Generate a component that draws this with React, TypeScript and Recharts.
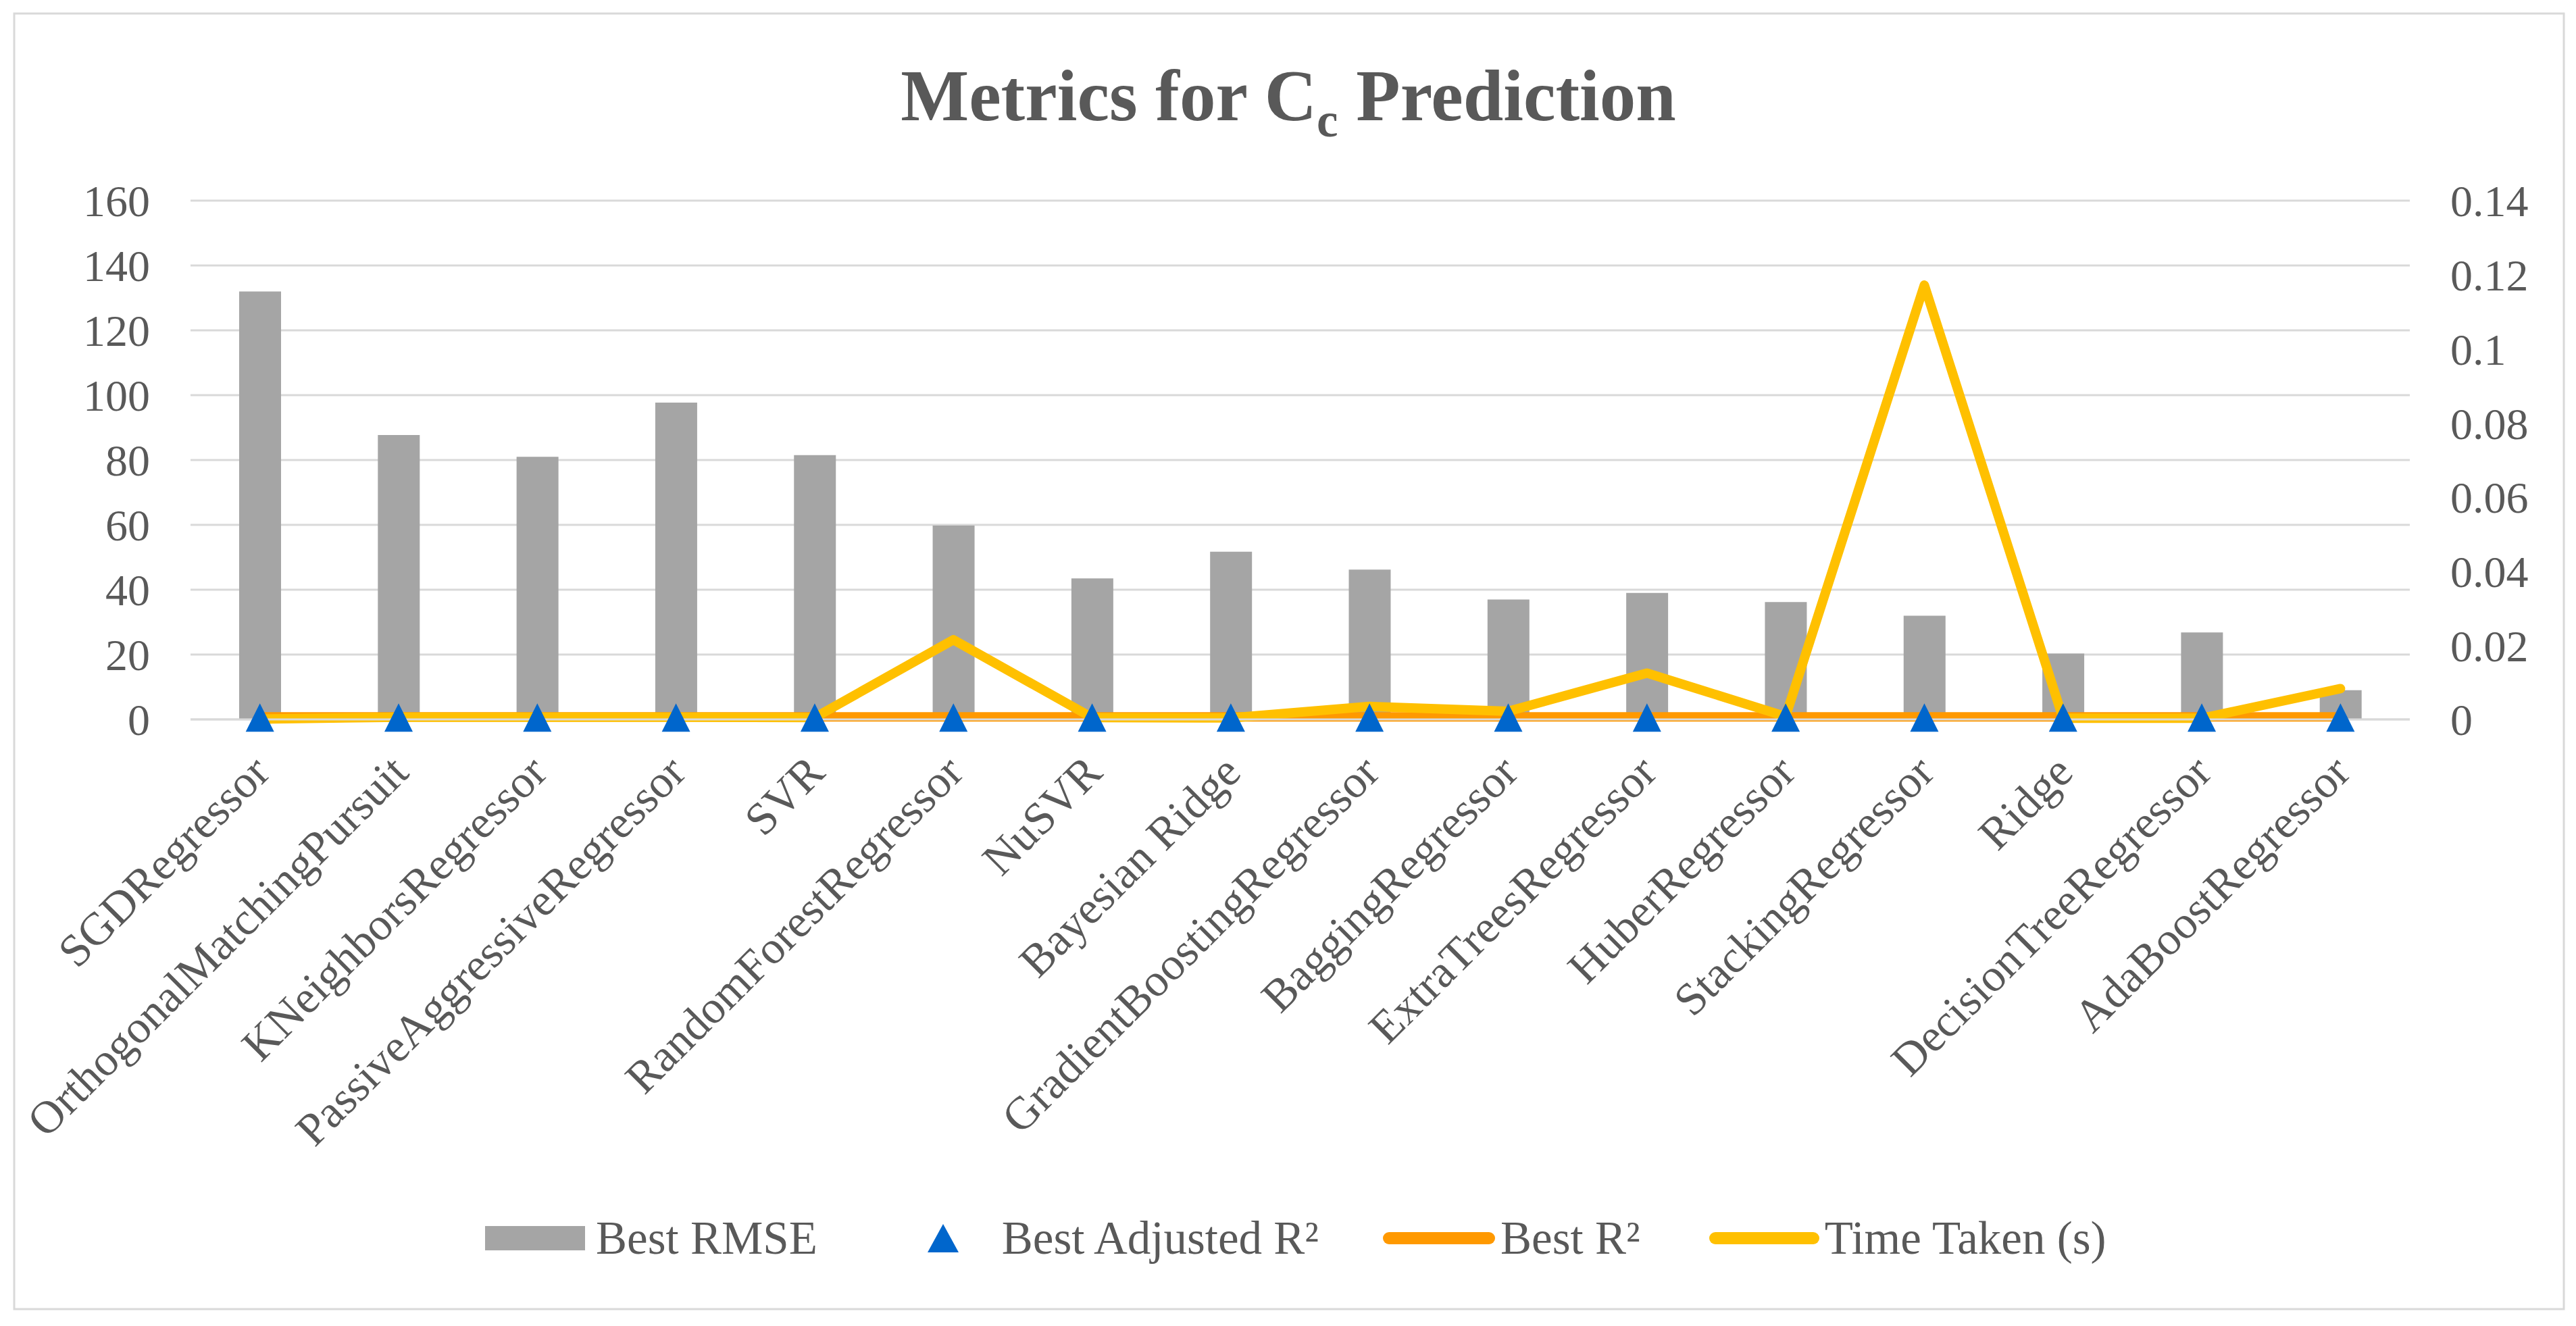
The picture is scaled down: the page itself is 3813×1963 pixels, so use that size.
import { ComposedChart, Bar, Line, XAxis, YAxis, CartesianGrid } from 'recharts';

const models = [
  'SGDRegressor',
  'OrthogonalMatchingPursuit',
  'KNeighborsRegressor',
  'PassiveAggressiveRegressor',
  'SVR',
  'RandomForestRegressor',
  'NuSVR',
  'Bayesian Ridge',
  'GradientBoostingRegressor',
  'BaggingRegressor',
  'ExtraTreesRegressor',
  'HuberRegressor',
  'StackingRegressor',
  'Ridge',
  'DecisionTreeRegressor',
  'AdaBoostRegressor',
];

const bestRmse = [132, 87.7, 81, 97.7, 81.5, 59.8, 43.5, 51.7, 46.2, 37, 39, 36.2, 32, 20.3, 26.8, 9];
const bestAdjR2 = [0.55, 0.55, 0.55, 0.55, 0.55, 0.55, 0.55, 0.55, 0.55, 0.55, 0.55, 0.55, 0.55, 0.55, 0.55, 0.55];
const bestR2 = [0.8, 0.8, 0.8, 0.8, 0.8, 0.8, 0.8, 0.8, 0.8, 0.8, 0.8, 0.8, 0.8, 0.8, 0.8, 0.8];
const timeTaken = [0.0001, 0.0006, 0.0006, 0.0006, 0.0005, 0.0215, 0.0005, 0.0004, 0.0035, 0.0022, 0.0125, 0.0008, 0.1172, 0.0003, 0.0003, 0.0083];

const leftTicks = [0, 20, 40, 60, 80, 100, 120, 140, 160];
const rightTicks = [0, 0.02, 0.04, 0.06, 0.08, 0.1, 0.12, 0.14];

const data = models.map((name, i) => ({
  name,
  rmse: bestRmse[i],
  adjR2: bestAdjR2[i],
  r2: bestR2[i],
  time: timeTaken[i],
}));

const FONT = '"Liberation Serif", "Times New Roman", serif';
const TEXT = '#595959';
const GRID = '#D9D9D9';
const GRAY = '#A5A5A5';
const BLUE = '#0066CC';
const ORANGE = '#FF9900';
const YELLOW = '#FFC000';

function CategoryTick({ x, y, payload }: any) {
  const ax = x + 18;
  const ay = y + 80;
  return (
    <text
      x={ax}
      y={ay}
      transform={`rotate(-45 ${ax} ${ay})`}
      textAnchor="end"
      fontFamily={FONT}
      fontSize={68}
      fill={TEXT}
    >
      {payload.value}
    </text>
  );
}

function TriangleDot({ cx, cy }: any) {
  if (cx == null || cy == null) return null;
  const h = 21;
  return (
    <polygon
      points={`${cx},${cy - h} ${cx + h},${cy + h} ${cx - h},${cy + h}`}
      fill={BLUE}
    />
  );
}

// legend: icon box width, gap before text, space before the item
const legendItems = [
  { label: 'Best RMSE', kind: 'bar', color: GRAY, icon: 148, gap: 16, before: 0 },
  { label: 'Best Adjusted R²', kind: 'triangle', color: BLUE, icon: 150, gap: 12, before: 111 },
  { label: 'Best R²', kind: 'line', color: ORANGE, icon: 166, gap: 8, before: 95 },
  { label: 'Time Taken (s)', kind: 'line', color: YELLOW, icon: 163, gap: 8, before: 102 },
];

function LegendIcon({ kind, color, w }: { kind: string; color: string; w: number }) {
  return (
    <svg width={w} height={50} style={{ overflow: 'visible', flex: 'none' }}>
      {kind === 'bar' && <rect x={0} y={7} width={w} height={36} fill={color} />}
      {kind === 'triangle' && (
        <polygon points={`${w / 2},4 ${w / 2 + 23},46 ${w / 2 - 23},46`} fill={color} />
      )}
      {kind === 'line' && (
        <line x1={9} y1={25} x2={w - 9} y2={25} stroke={color} strokeWidth={18} strokeLinecap="round" />
      )}
    </svg>
  );
}

export default function App() {
  return (
    <div
      style={{
        position: 'absolute',
        left: 0,
        top: 0,
        width: 3813,
        height: 1963,
        background: '#fff',
        fontFamily: FONT,
      }}
    >
      <svg width={3813} height={1963} style={{ position: 'absolute', left: 0, top: 0 }}>
        <rect x={21} y={20} width={3774} height={1918} fill="none" stroke={GRID} strokeWidth={3} />
        <text x={1907} y={178} textAnchor="middle" fontFamily={FONT} fontSize={107} fontWeight="bold" fill={TEXT}>
          Metrics for C
          <tspan fontSize={71} dy={24}>c</tspan>
          <tspan dy={-24}> Prediction</tspan>
        </text>
      </svg>

      <div style={{ position: 'absolute', left: 0, top: 0 }}>
        <ComposedChart
          width={3813}
          height={1963}
          data={data}
          margin={{ top: 297, right: 46, bottom: 798, left: 82 }}
        >
          <CartesianGrid yAxisId="left" vertical={false} stroke={GRID} strokeWidth={3} />
          <XAxis
            dataKey="name"
            interval={0}
            height={100}
            tickLine={false}
            tickSize={0}
            axisLine={{ stroke: GRID, strokeWidth: 3 }}
            tick={<CategoryTick />}
          />
          <YAxis
            yAxisId="left"
            orientation="left"
            width={200}
            domain={[0, 160]}
            ticks={leftTicks}
            axisLine={false}
            tickLine={false}
            tickSize={0}
            tickMargin={60}
            tick={{ fontFamily: FONT, fontSize: 66, fill: TEXT }}
          />
          <YAxis
            yAxisId="right"
            orientation="right"
            width={200}
            domain={[0, 0.14]}
            ticks={rightTicks}
            axisLine={false}
            tickLine={false}
            tickSize={0}
            tickMargin={60}
            tick={{ fontFamily: FONT, fontSize: 66, fill: TEXT, textAnchor: 'start' }}
          />
          <Bar yAxisId="left" dataKey="rmse" fill={GRAY} barSize={62} isAnimationActive={false} />
          <Line
            yAxisId="left"
            type="linear"
            dataKey="r2"
            stroke={ORANGE}
            strokeWidth={14}
            dot={false}
            activeDot={false}
            isAnimationActive={false}
          />
          <Line
            yAxisId="right"
            type="linear"
            dataKey="time"
            stroke={YELLOW}
            strokeWidth={14}
            strokeLinecap="round"
            strokeLinejoin="round"
            dot={false}
            activeDot={false}
            isAnimationActive={false}
          />
          <Line
            yAxisId="left"
            type="linear"
            dataKey="adjR2"
            stroke="none"
            dot={<TriangleDot />}
            activeDot={false}
            isAnimationActive={false}
          />
        </ComposedChart>
      </div>

      <div
        style={{
          position: 'absolute',
          left: 718,
          top: 1793,
          height: 80,
          display: 'flex',
          alignItems: 'center',
          whiteSpace: 'nowrap',
        }}
      >
        {legendItems.map((item) => (
          <div key={item.label} style={{ display: 'flex', alignItems: 'center', marginLeft: item.before }}>
            <LegendIcon kind={item.kind} color={item.color} w={item.icon} />
            <span style={{ fontSize: 69, lineHeight: '80px', color: TEXT, marginLeft: item.gap }}>{item.label}</span>
          </div>
        ))}
      </div>
    </div>
  );
}
